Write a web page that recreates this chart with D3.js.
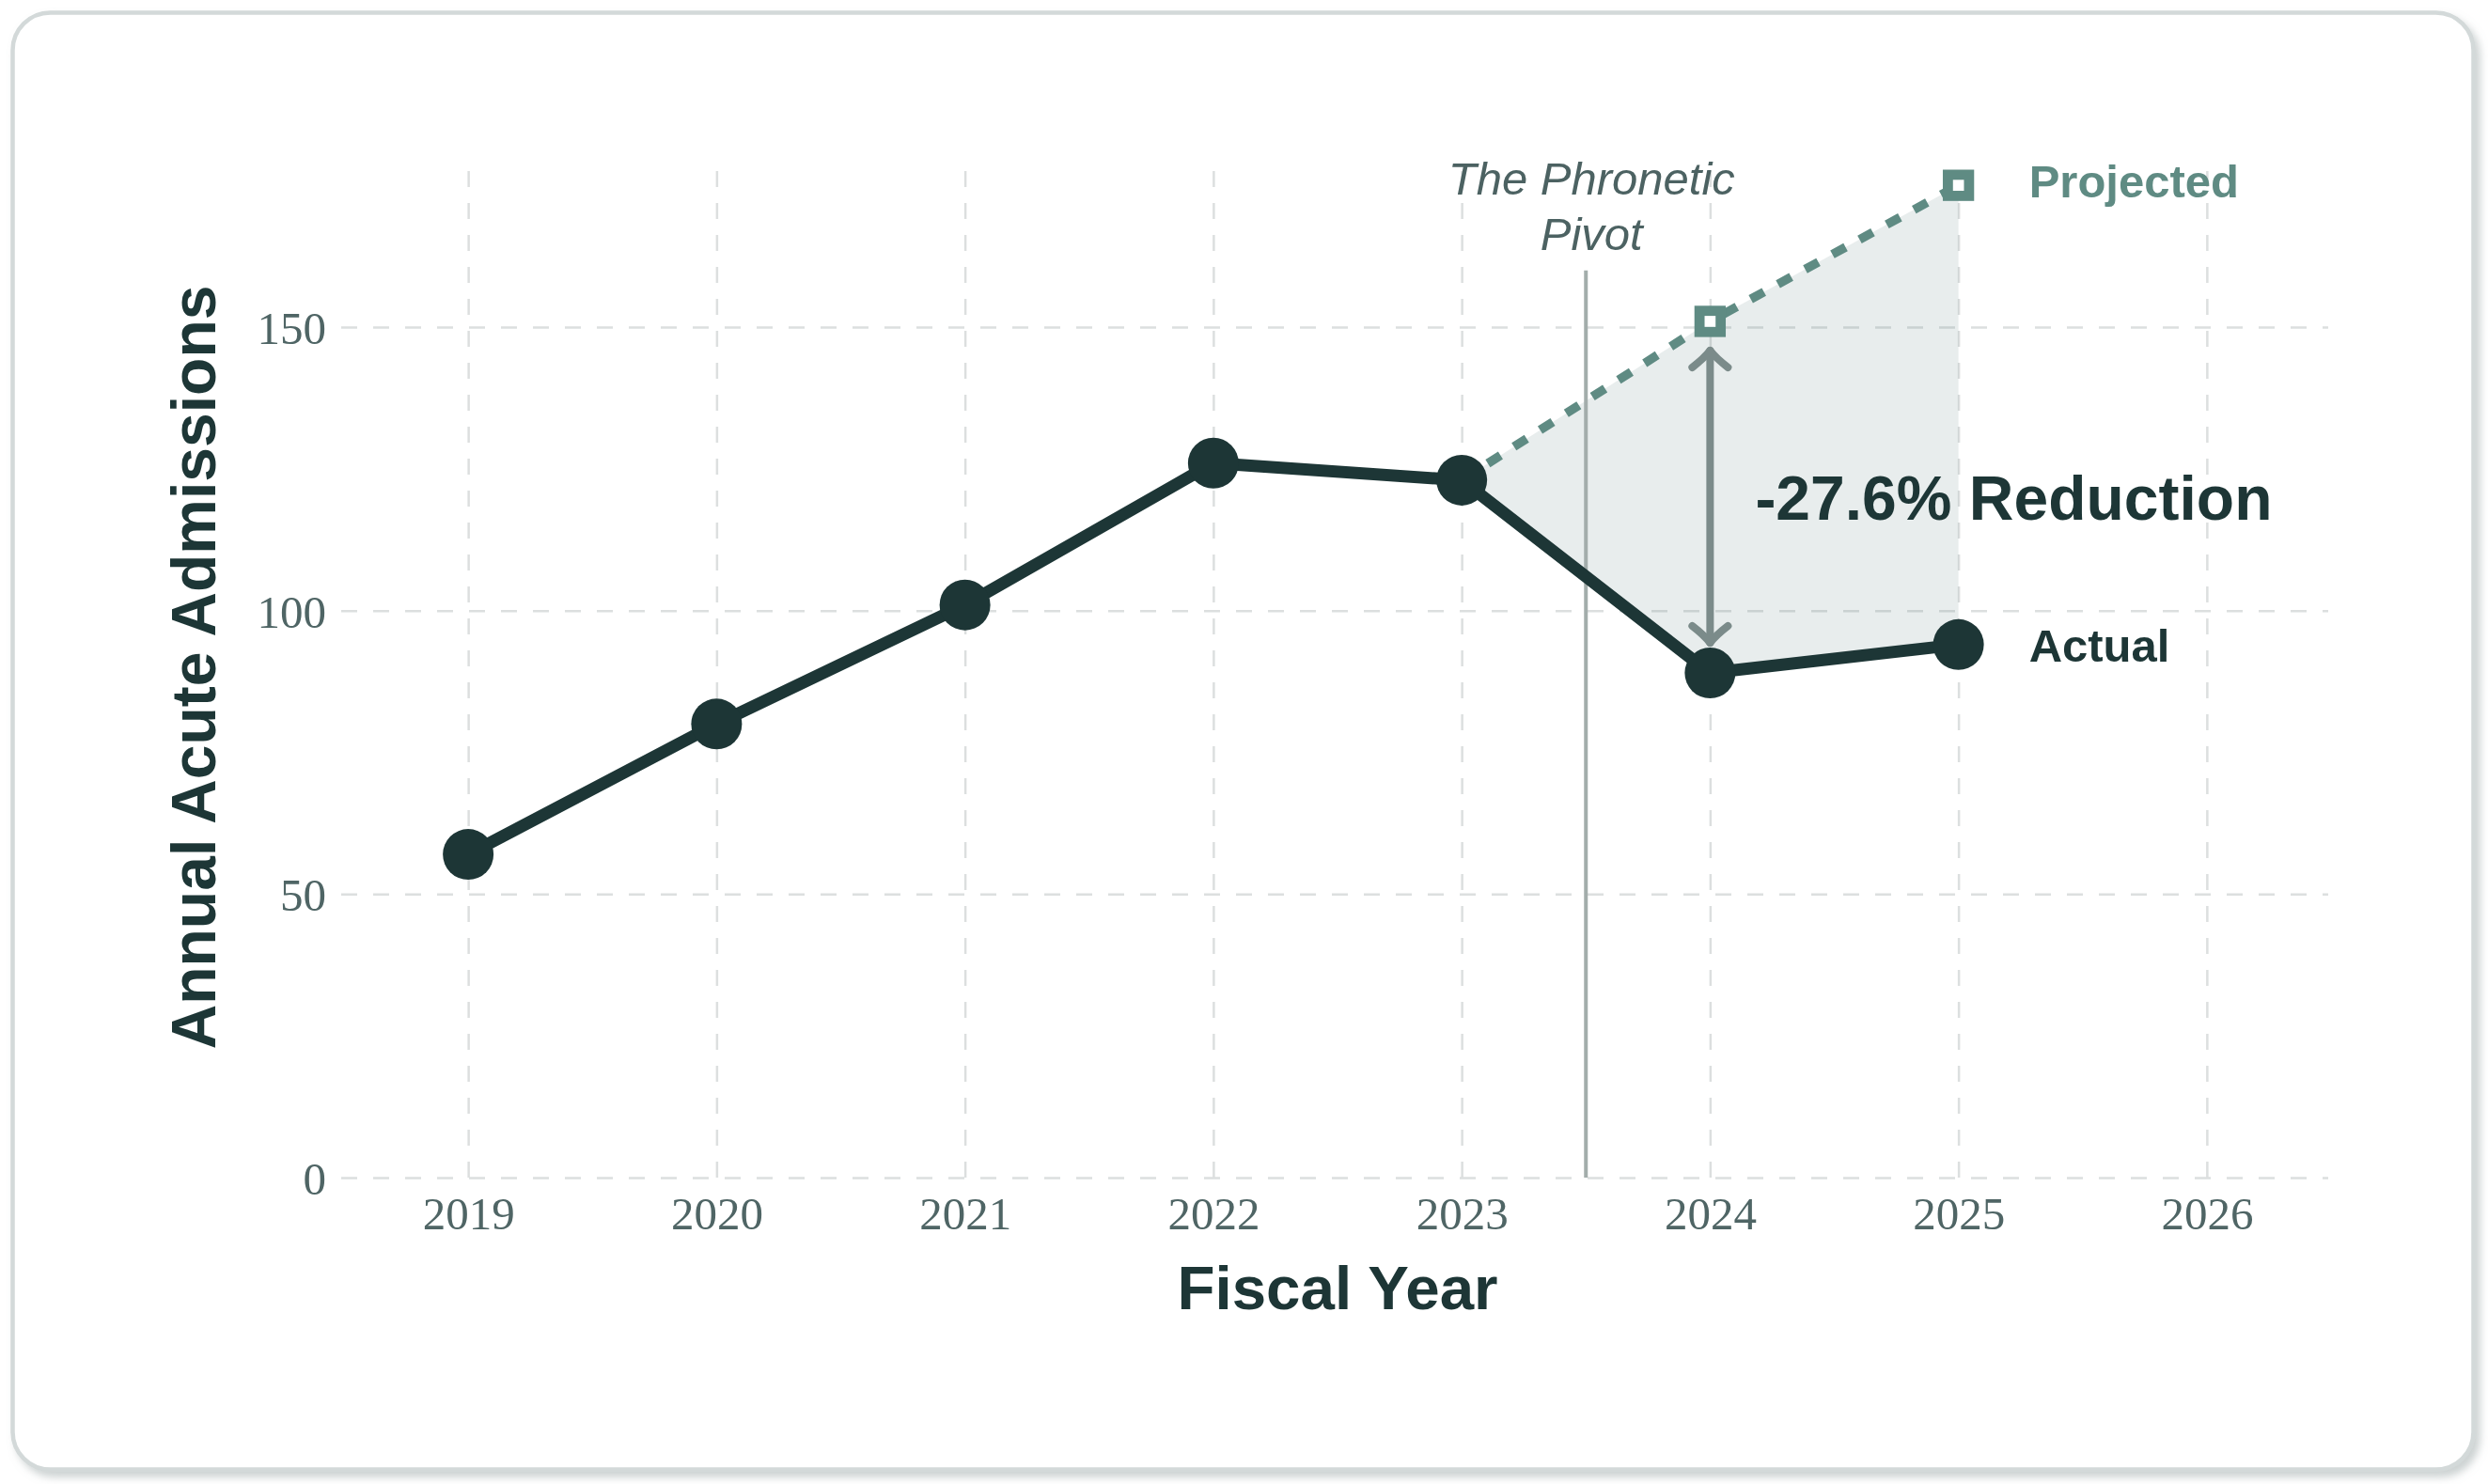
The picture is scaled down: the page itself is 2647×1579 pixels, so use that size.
<!DOCTYPE html>
<html>
<head>
<meta charset="utf-8">
<script src="https://cdn.jsdelivr.net/npm/d3@7"></script>
<style>
  html, body { margin: 0; padding: 0; background: #fff; }
  svg { display: block; }
  .grid line { stroke: #dcdfdf; stroke-width: 2.5; stroke-dasharray: 17,17; }
  .grid text { font-family: "Liberation Serif", serif; font-size: 49px; fill: #4f6565; }
</style>
</head>
<body>
<script>
// data
const years = [2019, 2020, 2021, 2022, 2023, 2024, 2025];
const actual = [57, 80, 101, 126, 123, 89, 94];
const projYears = [2023, 2024, 2025];
const projected = [123, 151, 175];
const xTicks = [2019, 2020, 2021, 2022, 2023, 2024, 2025, 2026];
const yTicks = [0, 50, 100, 150];
const pivotYear = 2023.5;
const reductionLabel = "-27.6% Reduction";

const W = 2647, H = 1579;
const dark = "#1d3636";
const teal = "#5f8b83";

const svg = d3.select("body").append("svg")
    .attr("width", W)
    .attr("height", H);

const defs = svg.append("defs");
const shadow = defs.append("filter").attr("id", "shadow")
    .attr("x", "-5%").attr("y", "-5%").attr("width", "110%").attr("height", "110%");
shadow.append("feDropShadow")
    .attr("dx", 5).attr("dy", 6).attr("stdDeviation", 4)
    .attr("flood-color", "#9aa4a4").attr("flood-opacity", 0.5);

// card
svg.append("rect")
    .attr("x", 13.5).attr("y", 13.5)
    .attr("width", 2618).attr("height", 1550)
    .attr("rx", 40)
    .style("fill", "#fff")
    .style("stroke", "#d3d9d9")
    .style("stroke-width", 4.5)
    .attr("filter", "url(#shadow)");

const x = d3.scaleLinear().domain([2018.5, 2026.5]).range([366, 2480]);
const y = d3.scaleLinear().domain([0, 180]).range([1253, 167]);

const plotW = x.range()[1] - x.range()[0];
const plotH = y.range()[0] - y.range()[1];

// grid + tick labels through the axes
const xAxis = svg.append("g")
    .attr("class", "grid")
    .attr("transform", "translate(0," + y(0) + ")")
    .call(d3.axisBottom(x).tickValues(xTicks).tickSize(-plotH).tickFormat(d3.format("d")));
xAxis.select(".domain").remove();
xAxis.selectAll("text").attr("y", 55).attr("dy", null);

const yAxis = svg.append("g")
    .attr("class", "grid")
    .attr("transform", "translate(" + (x.range()[0] - 3) + ",0)")
    .call(d3.axisLeft(y).tickValues(yTicks).tickSize(-(plotW)).tickPadding(16));
yAxis.select(".domain").remove();
yAxis.selectAll("text").attr("dy", "0.36em");

// shaded gap between projected and actual
const gap = projYears.map((yr, i) => ({
    year: yr,
    proj: projected[i],
    act: actual[years.indexOf(yr)]
}));

svg.append("path")
    .datum(gap)
    .attr("d", d3.area()
        .x(d => x(d.year))
        .y0(d => y(d.act))
        .y1(d => y(d.proj)))
    .style("fill", "rgb(95,128,128)")
    .style("fill-opacity", 0.14);

// pivot line
svg.append("line")
    .attr("x1", x(pivotYear)).attr("x2", x(pivotYear))
    .attr("y1", y(0)).attr("y2", y(160))
    .style("stroke", "#a3adab")
    .style("stroke-width", 4);

svg.append("text")
    .attr("x", x(pivotYear) + 6)
    .attr("y", 207)
    .attr("text-anchor", "middle")
    .style("font-family", "'Liberation Sans', Arial, sans-serif")
    .style("font-style", "italic")
    .style("font-size", "49px")
    .style("fill", "#4c6262")
    .selectAll("tspan")
    .data(["The Phronetic", "Pivot"])
    .enter().append("tspan")
    .attr("x", x(pivotYear) + 6)
    .attr("dy", (d, i) => i === 0 ? 0 : 59)
    .text(d => d);

// projected dashed line
svg.append("path")
    .datum(projYears.map((yr, i) => [yr, projected[i]]))
    .attr("d", d3.line().x(d => x(d[0])).y(d => y(d[1])))
    .style("fill", "none")
    .style("stroke", teal)
    .style("stroke-width", 9.5)
    .style("stroke-dasharray", "16,17");

// actual line
svg.append("path")
    .datum(years.map((yr, i) => [yr, actual[i]]))
    .attr("d", d3.line().x(d => x(d[0])).y(d => y(d[1])))
    .style("fill", "none")
    .style("stroke", dark)
    .style("stroke-width", 13)
    .style("stroke-linejoin", "round");

svg.append("g")
    .selectAll("circle")
    .data(years.map((yr, i) => [yr, actual[i]]))
    .enter().append("circle")
    .attr("cx", d => x(d[0]))
    .attr("cy", d => y(d[1]))
    .attr("r", 27)
    .style("fill", dark);

// projected markers (hollow squares)
const sq = 22.5;
svg.append("g")
    .selectAll("rect")
    .data(projYears.map((yr, i) => [yr, projected[i]]).slice(1))
    .enter().append("rect")
    .attr("x", d => x(d[0]) - sq / 2)
    .attr("y", d => y(d[1]) - sq / 2)
    .attr("width", sq)
    .attr("height", sq)
    .style("fill", "#fff")
    .style("stroke", teal)
    .style("stroke-width", 10.8);

// double arrow at 2024
const arrowYear = 2024;
const ax = x(arrowYear);
const aTop = y(projected[projYears.indexOf(arrowYear)]) + 31;
const aBot = y(actual[years.indexOf(arrowYear)]) - 32;
const arrow = svg.append("g")
    .style("stroke", "#7b8b8a")
    .style("stroke-width", 8)
    .style("stroke-linecap", "round")
    .style("stroke-linejoin", "round")
    .style("fill", "none");
arrow.append("line").attr("x1", ax).attr("x2", ax).attr("y1", aTop).attr("y2", aBot);
arrow.append("path").attr("d", "M" + (ax - 19) + "," + (aTop + 18) + "Q" + (ax - 6) + "," + (aTop + 8) + " " + ax + "," + aTop + "Q" + (ax + 6) + "," + (aTop + 8) + " " + (ax + 19) + "," + (aTop + 18));
arrow.append("path").attr("d", "M" + (ax - 19) + "," + (aBot - 18) + "Q" + (ax - 6) + "," + (aBot - 8) + " " + ax + "," + aBot + "Q" + (ax + 6) + "," + (aBot - 8) + " " + (ax + 19) + "," + (aBot - 18));

// labels
const sans = "'Liberation Sans', Arial, sans-serif";
const last = years.length - 1;

svg.append("text")
    .attr("x", x(years[last]) + 75)
    .attr("y", y(projected[projected.length - 1]) - 5)
    .attr("dy", "0.36em")
    .style("font-family", sans).style("font-weight", "bold").style("font-size", "49px")
    .style("fill", teal)
    .text("Projected");

svg.append("text")
    .attr("x", x(years[last]) + 75)
    .attr("y", y(actual[last]))
    .attr("dy", "0.36em")
    .style("font-family", sans).style("font-weight", "bold").style("font-size", "49px")
    .style("fill", dark)
    .text("Actual");

const midVal = (projected[projYears.indexOf(arrowYear)] + actual[years.indexOf(arrowYear)]) / 2;
svg.append("text")
    .attr("x", ax + 48)
    .attr("y", y(midVal))
    .attr("dy", "0.36em")
    .style("font-family", sans).style("font-weight", "bold").style("font-size", "66px")
    .style("fill", dark)
    .text(reductionLabel);

// axis titles
svg.append("text")
    .attr("x", (x.range()[0] + x.range()[1]) / 2)
    .attr("y", 1393)
    .attr("text-anchor", "middle")
    .style("font-family", sans).style("font-weight", "bold").style("font-size", "65.5px")
    .style("fill", dark)
    .text("Fiscal Year");

svg.append("text")
    .attr("transform", "translate(229," + ((y.range()[0] + y.range()[1]) / 2) + ") rotate(-90)")
    .attr("text-anchor", "middle")
    .style("font-family", sans).style("font-weight", "bold").style("font-size", "66px")
    .style("fill", dark)
    .text("Annual Acute Admissions");
</script>
</body>
</html>
